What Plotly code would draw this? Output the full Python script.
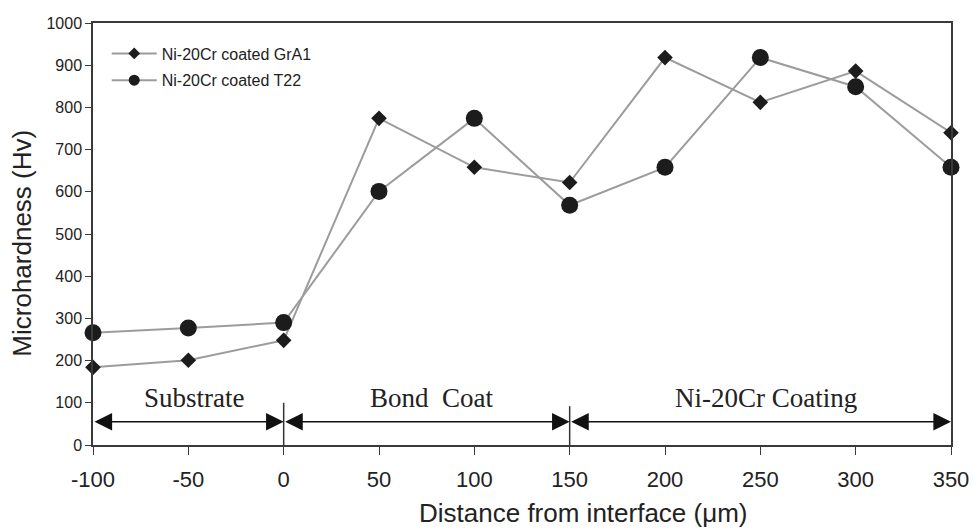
import plotly.graph_objects as go

distance = [-100, -50, 0, 50, 100, 150, 200, 250, 300, 350]
gra1 = [184, 201, 248, 774, 658, 622, 918, 812, 886, 740]
t22 = [266, 277, 290, 601, 774, 568, 658, 918, 849, 658]
series_names = ["Ni-20Cr coated GrA1", "Ni-20Cr coated T22"]

x_ticks = [-100, -50, 0, 50, 100, 150, 200, 250, 300, 350]
y_ticks = [0, 100, 200, 300, 400, 500, 600, 700, 800, 900, 1000]

x_title = "Distance from interface (μm)"
y_title = "Microhardness (Hv)"

region_labels = ["Substrate", "Bond  Coat", "Ni-20Cr Coating"]
region_bounds = [(-100, 0), (0, 150), (150, 350)]
separator_x = [0, 150]
arrow_level = 55
label_level = 112
separator_top = [100, 92]

LINE = "#9c9c9c"
MARK = "#1c1c1c"
AX = "#3a3a3a"

fig = go.Figure()
fig.add_trace(go.Scatter(x=distance, y=gra1, mode="lines+markers", showlegend=False,
                         line=dict(color=LINE, width=2),
                         marker=dict(symbol="diamond", size=12, color=MARK),
                         cliponaxis=False))
fig.add_trace(go.Scatter(x=distance, y=t22, mode="lines+markers", showlegend=False,
                         line=dict(color=LINE, width=2),
                         marker=dict(symbol="circle", size=17, color=MARK),
                         cliponaxis=False))
# legend entries
fig.add_trace(go.Scatter(x=[None], y=[None], mode="lines+markers", name=series_names[0],
                         legendgroup="a",
                         line=dict(color=LINE, width=2),
                         marker=dict(symbol="diamond", size=9, color=MARK)))
fig.add_trace(go.Scatter(x=[None], y=[None], mode="lines+markers", name=series_names[1],
                         legendgroup="b",
                         line=dict(color=LINE, width=2),
                         marker=dict(symbol="circle", size=11, color=MARK)))

for (x0, x1), lab in zip(region_bounds, region_labels):
    fig.add_annotation(x=x1, y=arrow_level, ax=x0, ay=arrow_level, axref="x", ayref="y",
                       xref="x", yref="y", text="", showarrow=True,
                       arrowhead=2, startarrowhead=2, arrowside="end+start",
                       arrowsize=2.2, startarrowsize=2.2, arrowwidth=1.6, arrowcolor="#111111",
                       standoff=0, startstandoff=0)
    fig.add_annotation(x=(x0 + x1) / 2 + 3, y=label_level, xref="x", yref="y", text=lab,
                       showarrow=False,
                       font=dict(family="Liberation Serif", size=27, color="#222222"))

for sx, top in zip(separator_x, separator_top):
    fig.add_shape(type="line", x0=sx, x1=sx, y0=0, y1=top, xref="x", yref="y",
                  line=dict(color="#333333", width=1.5))

# axis titles
fig.add_annotation(x=0.572, y=-0.162, xref="paper", yref="paper", text=x_title,
                   showarrow=False, xanchor="center", yanchor="middle",
                   font=dict(size=26, family="Liberation Sans", color="#222222"))
fig.add_annotation(x=-0.083, y=0.479, xref="paper", yref="paper", text=y_title,
                   showarrow=False, xanchor="center", yanchor="middle", textangle=-90,
                   font=dict(size=26, family="Liberation Sans", color="#222222"))

fig.update_layout(
    width=973, height=529,
    margin=dict(l=93, r=22, t=23, b=84),
    paper_bgcolor="white", plot_bgcolor="white",
    font=dict(family="Liberation Sans", color="#222222"),
    legend=dict(x=0.016, y=0.968, xanchor="left", yanchor="top",
                bgcolor="rgba(0,0,0,0)", font=dict(size=16, family="Liberation Sans"),
                traceorder="grouped", tracegroupgap=3, itemwidth=45),
)
fig.update_xaxes(range=[-100, 350], tickvals=x_ticks, ticktext=[str(v) for v in x_ticks],
                 showgrid=False, zeroline=False, showline=True, linecolor=AX, linewidth=1.5,
                 mirror=True, ticks="outside", ticklen=8, tickcolor=AX, tickwidth=1.2,
                 automargin=False, ticklabelstandoff=6,
                 tickfont=dict(size=22))
fig.update_yaxes(range=[0, 1000], tickvals=y_ticks, showgrid=False, zeroline=False,
                 showline=True, linecolor=AX, linewidth=1.5, mirror=True,
                 ticks="outside", ticklen=6, tickcolor=AX, tickwidth=1.2,
                 automargin=False,
                 tickfont=dict(size=16))

fig.write_html("out.html")
